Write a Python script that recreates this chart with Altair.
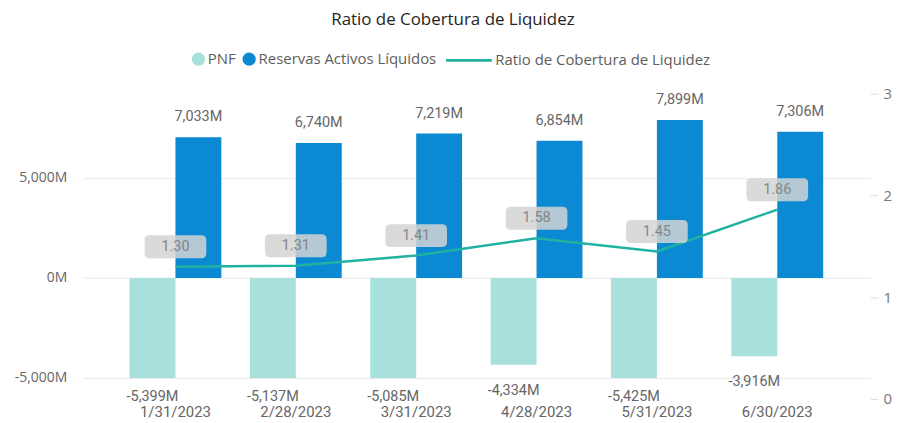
import altair as alt
import pandas as pd

dates = ["1/31/2023", "2/28/2023", "3/31/2023", "4/28/2023", "5/31/2023", "6/30/2023"]
pnf = [-5399, -5137, -5085, -4334, -5425, -3916]
reservas = [7033, 6740, 7219, 6854, 7899, 7306]
ratio = [1.30, 1.31, 1.41, 1.58, 1.45, 1.86]
series = ["PNF", "Reservas Activos Líquidos"]
line_name = "Ratio de Cobertura de Liquidez"
title_text = "Ratio de Cobertura de Liquidez"

C_PNF = "#a8e0dc"
C_RES = "#0b8ad3"
C_LINE = "#1fb2a0"

bars_df = pd.DataFrame({
    "fecha": dates * 2,
    "serie": [series[0]] * len(dates) + [series[1]] * len(dates),
    "valor": pnf + reservas,
})
ratio_df = pd.DataFrame({"fecha": dates, "ratio": ratio, "serie": [line_name] * len(dates)})

FONT = "Open Sans"
LBL = "Roboto"
GREY = "#666666"

xscale = alt.Scale(paddingInner=0.237, paddingOuter=0.39)
x_axis = alt.Axis(title=None, labelAngle=0, domain=False, ticks=False, labelPadding=6,
                  labelFont=LBL, labelFontSize=15, labelColor=GREY, grid=False)
x = alt.X("fecha:N", sort=dates, scale=xscale, axis=x_axis)

yL = alt.Scale(domain=[-6050, 9210], nice=False, zero=False)
yR = alt.Scale(domain=[0, 3], nice=False, zero=False)

left_axis = alt.Axis(
    values=[-5000, 0, 5000],
    labelExpr="replace(format(datum.value, ','), '\u2212', '-') + 'M'", title=None,
    domain=False, ticks=False, labelPadding=16, gridColor="#e8e8e8", grid=True,
    labelColor=GREY, labelFont=FONT, labelFontSize=14)
right_axis = alt.Axis(
    orient="right", values=[0, 1, 2, 3], title=None, domain=False, grid=False,
    ticks=True, tickColor="#dddddd", tickSize=8, labelPadding=5,
    labelColor="#777777", labelFont=FONT, labelFontSize=15)

lbl_expr = "replace(format(datum.valor, ','), '\u2212', '-') + 'M'"

bars = alt.Chart(bars_df).transform_calculate(
    yb="max(datum.valor, -5000)"
).mark_bar().encode(
    x=x,
    xOffset=alt.XOffset("serie:N", sort=series),
    y=alt.Y("yb:Q", scale=yL, axis=left_axis),
    y2=alt.datum(0),
    fill=alt.Fill("serie:N", scale=alt.Scale(domain=series, range=[C_PNF, C_RES]),
                  legend=alt.Legend(orient="none", legendX=109, legendY=-42.5, direction="horizontal",
                                    title=None, symbolType="circle", symbolSize=177,
                                    symbolStrokeWidth=0,
                                    labelFont=FONT, labelFontSize=15, labelColor="#605e5c",
                                    columnPadding=5, labelOffset=2, labelLimit=0)),
)

pos_lbl = alt.Chart(bars_df).transform_filter("datum.valor > 0").transform_calculate(
    lbl=lbl_expr
).mark_text(dy=-20, font=LBL, fontSize=14.5, color=GREY, baseline="middle").encode(
    x=x,
    xOffset=alt.XOffset("serie:N", sort=series),
    y=alt.Y("valor:Q", scale=yL, axis=left_axis),
    text=alt.Text("lbl:N"),
)

neg_lbl = alt.Chart(bars_df).transform_filter("datum.valor < 0").transform_calculate(
    ly="max(datum.valor - 1300, -5950)", lbl=lbl_expr
).mark_text(font=LBL, fontSize=14.5, color=GREY, baseline="middle").encode(
    x=x,
    xOffset=alt.XOffset("serie:N", sort=series),
    y=alt.Y("ly:Q", scale=yL, axis=left_axis),
    text=alt.Text("lbl:N"),
)

line = alt.Chart(ratio_df).mark_line(strokeWidth=2.5).encode(
    x=x,
    y=alt.Y("ratio:Q", scale=yR, axis=right_axis),
    stroke=alt.Stroke("serie:N", scale=alt.Scale(domain=[line_name], range=[C_LINE]),
                      legend=alt.Legend(orient="none", legendX=364, legendY=-58, title=None,
                                        symbolType="stroke", symbolSize=2116, symbolStrokeWidth=3,
                                        labelFont=FONT, labelFontSize=15, labelColor="#605e5c",
                                        labelOffset=2, labelLimit=0)),
)

box_path = ("M-0.84,-0.371 L0.84,-0.371 Q1,-0.371 1,-0.21 L1,0.21 Q1,0.371 0.84,0.371 "
            "L-0.84,0.371 Q-1,0.371 -1,0.21 L-1,-0.21 Q-1,-0.371 -0.84,-0.371 Z")

boxes = alt.Chart(ratio_df).mark_point(
    shape=box_path, size=62 * 62, filled=True, fill="#d4d4d4", opacity=0.85,
    strokeWidth=0, yOffset=-20
).encode(
    x=x,
    y=alt.Y("ratio:Q", scale=yR, axis=right_axis),
)

ratio_txt = alt.Chart(ratio_df).mark_text(
    dy=-20, font=LBL, fontSize=14.5, color="#858585", baseline="middle"
).encode(
    x=x,
    y=alt.Y("ratio:Q", scale=yR, axis=right_axis),
    text=alt.Text("ratio:Q", format=".2f"),
)

bar_layer = alt.layer(bars, pos_lbl, neg_lbl)
ratio_layer = alt.layer(line, boxes, ratio_txt)

chart = alt.layer(bar_layer, ratio_layer).resolve_scale(
    y="independent", fill="independent", stroke="independent"
).properties(
    width=792,
    height=307,
    title=alt.TitleParams(title_text, font=FONT, fontSize=17, fontWeight="normal",
                          color="#252423", anchor="middle", frame="bounds", offset=7),
    padding={"left": 75, "top": 85, "right": 24, "bottom": 24},
    autosize=alt.AutoSizeParams(type="none"),
).configure_view(stroke=None)

chart.save("out.html", embed_options={"renderer": "svg", "actions": False})
